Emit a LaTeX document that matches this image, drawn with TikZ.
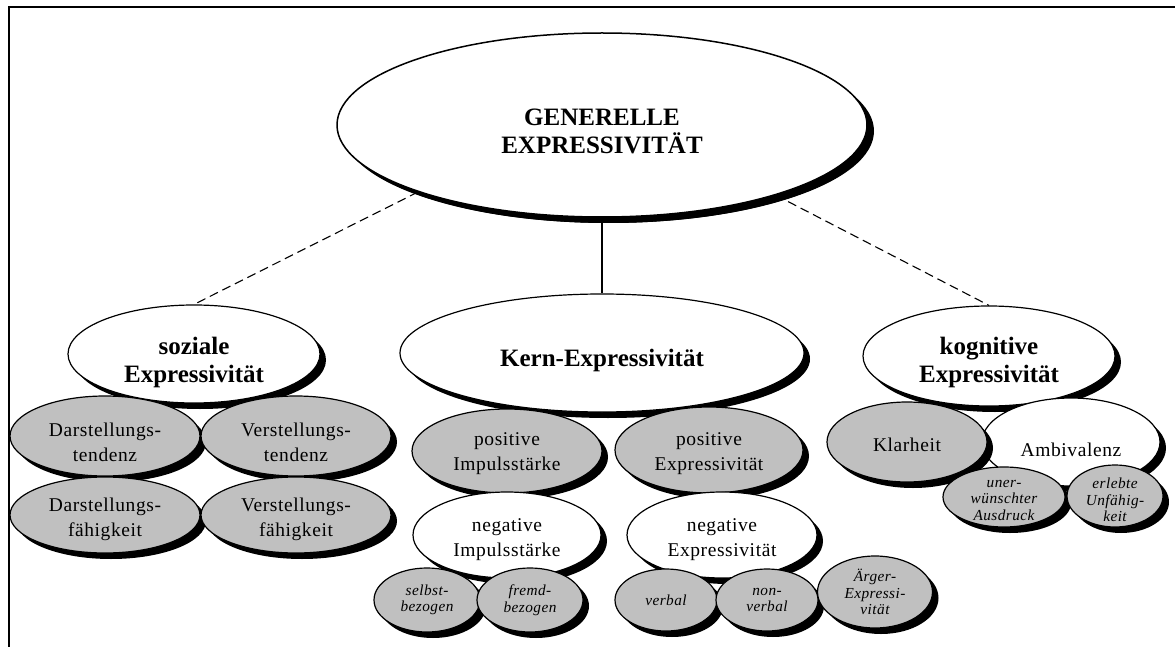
\documentclass[tikz,border=0pt]{standalone}
\usepackage{fontspec}
\setmainfont{Liberation Serif}
\newfontfamily\regfont[LetterSpace=3]{Liberation Serif}
\usetikzlibrary{shapes.geometric,shadows,backgrounds}
\definecolor{gfill}{RGB}{192,192,192}
\tikzset{
  ell/.style={ellipse, draw, line width=1.2pt, inner sep=0pt,
    drop shadow={shadow xshift=6pt, shadow yshift=-6pt, fill=black, opacity=1}},
  wh/.style={ell, fill=white},
  gr/.style={ell, fill=gfill},
  bigtxt/.style={font=\fontsize{25}{28}\selectfont\bfseries, align=center, inner sep=0pt},
  midtxt/.style={font=\regfont\fontsize{19.5}{25}\selectfont, align=center, inner sep=0pt},
  smtxt/.style={font=\regfont\itshape\fontsize{15.3}{16.5}\selectfont, align=center, inner sep=0pt},
  conn/.style={line width=1.1pt},
  dconn/.style={conn, dash pattern=on 9pt off 5pt},
  frame/.style={line width=2.5pt}
}
\begin{document}
\begin{tikzpicture}[x=1pt,y=-1pt]
\useasboundingbox (0,0) rectangle (1175,647);
\draw[frame] (1185,7) -- (9,7) -- (9,655);

% top
\node[wh, line width=1.5pt, minimum width=530pt, minimum height=184pt,
  drop shadow={shadow xshift=7pt, shadow yshift=-6pt, fill=black, opacity=1},
  label={[bigtxt,yshift=-6pt]center:{GENERELLE\\EXPRESSIVITÄT}}] (gen) at (602,125) {};

% soziale
\node[wh, minimum width=252pt, minimum height=98pt,
  label={[bigtxt,yshift=-8pt]center:{soziale\\Expressivität}}] (soz) at (194,354) {};
\node[gr, minimum width=190pt, minimum height=80pt,
  label={[midtxt,yshift=-6pt]center:{Darstellungs-\\tendenz}}] (darT) at (105,436) {};
\node[gr, minimum width=190pt, minimum height=80pt,
  label={[midtxt,yshift=-6pt]center:{Verstellungs-\\tendenz}}] (verT) at (296,436) {};
\node[gr, minimum width=190pt, minimum height=76pt,
  label={[midtxt,yshift=-4pt]center:{Darstellungs-\\fähigkeit}}] (darF) at (105,515) {};
\node[gr, minimum width=190pt, minimum height=76pt,
  label={[midtxt,yshift=-4pt]center:{Verstellungs-\\fähigkeit}}] (verF) at (296,515) {};

% kern
\node[wh, minimum width=404pt, minimum height=118pt,
  label={[bigtxt,yshift=-7pt]center:{Kern-Expressivität}}] (kern) at (602,353) {};
\node[gr, minimum width=190pt, minimum height=84pt,
  label={[midtxt,yshift=-3pt]center:{positive\\Impulsstärke}}] (posI) at (507,451) {};
\node[gr, minimum width=188pt, minimum height=86pt,
  label={[midtxt,yshift=-4pt]center:{positive\\Expressivität}}] (posE) at (709,450) {};
\node[wh, minimum width=188pt, minimum height=86pt,
  label={[midtxt,yshift=-5pt]center:{negative\\Impulsstärke}}] (negI) at (507,535) {};
\node[wh, minimum width=190pt, minimum height=86pt,
  label={[midtxt,yshift=-5pt]center:{negative\\Expressivität}}] (negE) at (722,535) {};
\node[gr, minimum width=106pt, minimum height=64pt,
  label={[smtxt]center:{selbst-\\bezogen}}] (selbst) at (427,600) {};
\node[gr, minimum width=106pt, minimum height=64pt,
  label={[smtxt]center:{fremd-\\bezogen}}] (fremd) at (530,600) {};
\node[gr, minimum width=102pt, minimum height=62pt,
  label={[smtxt]center:{verbal}}] (verbal) at (666,600) {};
\node[gr, minimum width=102pt, minimum height=62pt,
  label={[smtxt]center:{non-\\verbal}}] (nonverbal) at (767,600) {};
\node[gr, minimum width=115pt, minimum height=72pt,
  label={[smtxt]center:{Ärger-\\Expressi-\\vität}}] (aerger) at (875,592) {};

% kognitive
\node[wh, minimum width=252pt, minimum height=100pt,
  label={[bigtxt,yshift=-6pt]center:{kognitive\\Expressivität}}] (kog) at (989,356) {};
\node[wh, minimum width=178pt, minimum height=88pt,
  label={[midtxt,yshift=-8pt]center:{Ambivalenz}}] (amb) at (1071,442) {};
\node[gr, minimum width=160pt, minimum height=80pt,
  label={[midtxt,yshift=-3pt]center:{Klarheit}}] (klar) at (907,442) {};
\node[gr, minimum width=122pt, minimum height=60pt,
  label={[smtxt,yshift=-3pt]center:{uner-\\wünschter\\Ausdruck}}] (unerw) at (1004,497) {};
\node[gr, minimum width=96pt, minimum height=62pt,
  label={[smtxt,yshift=-4pt]center:{erlebte\\Unfähig-\\keit}}] (erlebt) at (1115,496) {};

\begin{scope}[on background layer]
  \draw[dconn] (gen.200) -- (soz.north);
  \draw[dconn] (gen.338) -- (kog.north);
  \draw[conn] (gen.south) -- (kern.north);
\end{scope}
\end{tikzpicture}
\end{document}
